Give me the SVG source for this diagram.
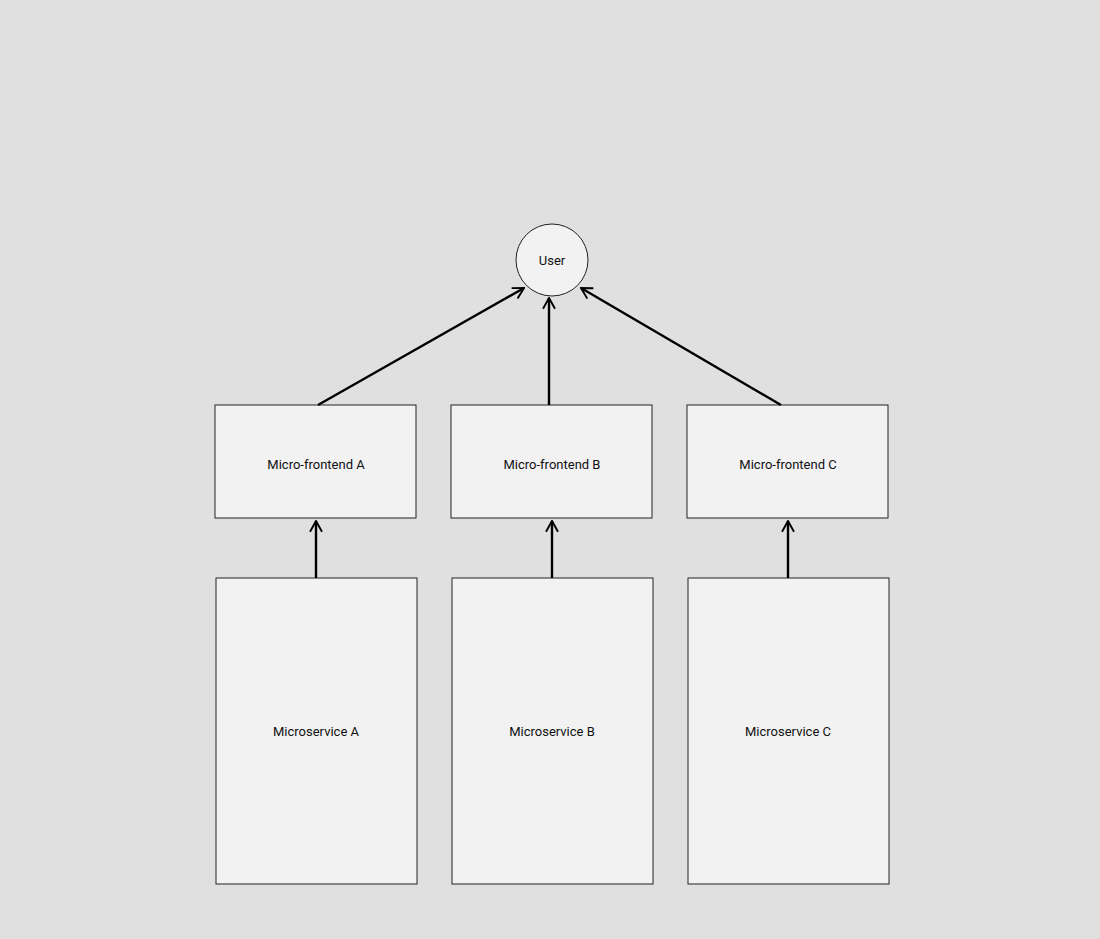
<svg xmlns="http://www.w3.org/2000/svg" width="1100" height="939" viewBox="0 0 1100 939">
<defs>
<style>
.box{fill:#f2f2f2;stroke:#222;stroke-width:1}
.lbl{font-family:Roboto,"Liberation Sans",sans-serif;font-size:13px;fill:#111;text-anchor:middle;dominant-baseline:central}
.edge{stroke:#000;stroke-width:2.4;fill:none;marker-end:url(#arr)}
</style>
<marker id="arr" viewBox="0 0 12 12" refX="11" refY="6" markerWidth="6" markerHeight="6" orient="auto" markerUnits="strokeWidth">
<path d="M2,1 L11,6 L2,11" fill="none" stroke="#000" stroke-width="1.6"/>
</marker>
</defs>
<rect width="1100" height="939" fill="#e0e0e0"/>
<g id="user"><circle cx="552" cy="260" r="36" class="box"/><text x="552" y="260" class="lbl">User</text></g>
<g id="mfA"><rect x="215" y="405" width="201" height="113" class="box"/><text x="316" y="464" class="lbl">Micro-frontend A</text></g>
<g id="mfB"><rect x="451" y="405" width="201" height="113" class="box"/><text x="552" y="464" class="lbl">Micro-frontend B</text></g>
<g id="mfC"><rect x="687" y="405" width="201" height="113" class="box"/><text x="788" y="464" class="lbl">Micro-frontend C</text></g>
<g id="msA"><rect x="216" y="578" width="201" height="306" class="box"/><text x="316" y="731" class="lbl">Microservice A</text></g>
<g id="msB"><rect x="452" y="578" width="201" height="306" class="box"/><text x="552" y="731" class="lbl">Microservice B</text></g>
<g id="msC"><rect x="688" y="578" width="201" height="306" class="box"/><text x="788" y="731" class="lbl">Microservice C</text></g>
<g id="connectors">
<line x1="318" y1="405" x2="524" y2="288" class="edge"/>
<line x1="549" y1="405" x2="549" y2="298" class="edge"/>
<line x1="781" y1="405" x2="581" y2="288" class="edge"/>
<line x1="316" y1="578" x2="316" y2="521" class="edge"/>
<line x1="552" y1="578" x2="552" y2="521" class="edge"/>
<line x1="788" y1="578" x2="788" y2="521" class="edge"/>
</g>
</svg>
